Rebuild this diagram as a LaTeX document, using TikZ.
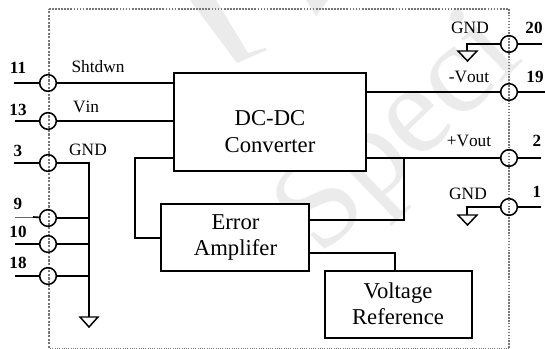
\documentclass[tikz,border=0pt]{standalone}
\usepackage{fontspec}
\setmainfont{Liberation Serif}
\definecolor{wm}{HTML}{EBEBEB}
\definecolor{bd}{HTML}{777777}
\tikzset{x=0.75pt,y=-0.75pt,
 wire/.style={line width=1.25pt,black},
 block/.style={draw=black,line width=1.25pt,fill=white,inner sep=0pt},
 blocktext/.style={inner sep=0pt,align=center,font=\fontsize{17}{19.5}\selectfont},
 pin/.style={circle,draw=black,line width=1.15pt,minimum size=12.5pt,inner sep=0pt},
 num/.style={font=\fontsize{12.8}{14}\selectfont\bfseries,inner sep=0pt},
 lab/.style={font=\fontsize{13}{14}\selectfont\addfontfeature{Kerning=Off},inner sep=0pt},
 ground/.style={draw=black,line width=1.1pt,fill=white},
 border/.style={draw=bd,densely dotted}}
\begin{document}
\begin{tikzpicture}
\useasboundingbox (0,0) rectangle (545,349);
% watermark
\begin{scope}
\clip (0,0) rectangle (545,349);
\fill[wm] (190,0) -- (237,63) -- (267,50) -- (265,48) -- (248,53) -- (216,0) -- cycle;
\fill[wm] (306,0) -- (328,0) -- (316,16) -- cycle;
\node[wm,rotate=44,anchor=base west,font=\fontsize{96}{96}\selectfont,inner sep=0pt] (wmark) at (320,258) {Speci};
\end{scope}
% border
\coordinate (tl) at (49,9); \coordinate (tr) at (509,9); \coordinate (br0) at (509,348); \coordinate (bl) at (49,348);
\draw[border,line width=1.3pt] (tl) -- (tr);
\draw[border,line width=1.7pt] (bl) -- (tl);
\draw[border,line width=1.2pt] (tr) -- (br0);
\draw[border,line width=0.7pt] (br0) -- (bl);
% blocks
\node[block,minimum width=144pt,minimum height=73.5pt] (conv) at (270,122) {};
\node[block,minimum width=111pt,minimum height=50.25pt] (amp) at (235,237.5) {};
\node[block,minimum width=110.25pt,minimum height=50.25pt] (vref) at (398.5,304.5) {};
\node[blocktext,font=\fontsize{17}{20}\selectfont] (convt) at (270,131.5) {DC-DC\\Converter};
\node[blocktext] (ampt) at (235.5,237.5) {Error\\Amplifer};
\node[blocktext] (vreft) at (398,303.5) {Voltage\\Reference};
% pins
\foreach \n/\y in {p11/83,p13/121,p3/163,p9/218,p10/244,p18/276}{\node[pin] (\n) at (48,\y) {};}
\foreach \n/\y in {p20/44,p19/92,p2/158,p1/207}{\node[pin] (\n) at (509,\y) {};}
% free ends
\coordinate (e11) at (14,83); \coordinate (e13) at (15,121); \coordinate (e3) at (14,163);
\coordinate (e9a) at (15,217); \coordinate (e9) at (33,217); \coordinate (e10) at (15,244); \coordinate (e18) at (15,276);
\coordinate (e20) at (542,44); \coordinate (e19) at (545,92); \coordinate (e2) at (541,158); \coordinate (e1) at (541,207);
\coordinate (busT) at (89,163); \coordinate (busB) at (89,317);
\coordinate (g20) at (467,51); \coordinate (g1) at (467,215);
\coordinate (fbT) at (135,158); \coordinate (fbB) at (135,238);
\coordinate (br) at (404,158); \coordinate (brB) at (404,220);
% left wires
\draw[wire] (e11) -- (p11); \draw[wire] (p11) -- (conv.west |- p11);
\draw[wire] (e13) -- (p13); \draw[wire] (p13) -- (conv.west |- p13);
\draw[wire] (e3) -- (p3); \draw[wire] (p3) -- (busT) -- (busB);
\draw[line width=0.4pt,black!60] (e9a) -- (e9); \draw[wire] (e9) -- (p9);
\draw[wire] (p9) -- (busT |- p9);
\draw[wire] (e10) -- (p10); \draw[wire] (p10) -- (busT |- p10);
\draw[wire] (e18) -- (p18); \draw[wire] (p18) -- (busT |- p18);
% right wires
\draw[wire] (p20) -- (e20); \draw[wire] (p20) -- (g20 |- p20) -- (g20);
\draw[wire] (conv.east |- p19) -- (p19); \draw[wire] (p19) -- (e19);
\draw[wire] (conv.east |- p2) -- (p2); \draw[wire] (p2) -- (e2);
\draw[wire] (p1) -- (e1); \draw[wire] (p1) -- (g1 |- p1) -- (g1);
% feedback
\draw[wire] (conv.west |- fbT) -- (fbT) -- (fbB) -- (amp.west |- fbB);
\draw[wire] (br) -- (brB) -- (amp.east |- brB);
\coordinate (vt) at (395,253);
\draw[wire] (amp.east |- vt) -- (vt) -- (vt |- vref.north);
% grounds
\draw[ground] (80,317) -- (98,317) -- (89,327) -- cycle;
\draw[ground] (458,51) -- (477,51) -- (467.5,61) -- cycle;
\draw[ground] (458,215) -- (477,215) -- (467.5,225) -- cycle;
% pin labels
\node[num] (n11) at (18,68) {11};
\node[num] (n13) at (18,110) {13};
\node[num] (n3) at (18,151) {3};
\node[num] (n9) at (18,204) {9};
\node[num] (n10) at (18,232) {10};
\node[num] (n18) at (18,263) {18};
\node[num] (n20) at (534,28) {20};
\node[num] (n19) at (535,77) {19};
\node[num] (n2) at (537,141) {2};
\node[num] (n1) at (537,192) {1};
% signal labels
\node[lab] (l1) at (98,67) {Shtdwn};
\node[lab] (l2) at (86,107) {Vin};
\node[lab] (l3) at (88,150) {GND};
\node[lab] (l4) at (470,28) {GND};
\node[lab] (l5) at (469,77) {-Vout};
\node[lab] (l6) at (469,141) {+Vout};
\node[lab] (l7) at (468,194) {GND};
\end{tikzpicture}
\end{document}
